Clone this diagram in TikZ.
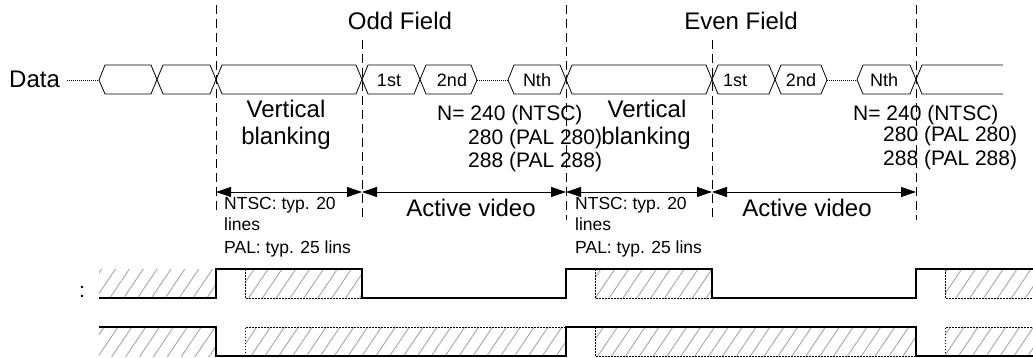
\documentclass[tikz,border=0pt]{standalone}
\usepackage{fontspec}
\setmainfont{Liberation Sans}
\usetikzlibrary{arrows.meta,patterns.meta}
\begin{document}
\begin{tikzpicture}[x=1pt,y=-1pt,
  big/.style={font=\fontsize{24}{28}\selectfont, inner sep=0pt},
  mid/.style={font=\fontsize{21}{24}\selectfont, inner sep=0pt},
  small/.style={font=\fontsize{17.5}{20}\selectfont, inner sep=0pt},
  lab/.style={font=\fontsize{18}{20}\selectfont, inner sep=0pt},
  bus/.style={line width=0.8pt, line join=miter},
  dotline/.style={line width=0.8pt, dash pattern=on 1pt off 1pt},
  guide/.style={line width=0.9pt, dash pattern=on 9pt off 5pt},
  dim/.style={line width=0.9pt, {Triangle[length=15pt,width=10pt]}-{Triangle[length=15pt,width=10pt]}},
  sig/.style={line width=1.8pt, line join=miter},
  hatch/.style={pattern={Lines[angle=56,distance=11.5pt,line width=0.9pt]}, pattern color=black!35},
  dotbox/.style={line width=0.8pt, dash pattern=on 1.5pt off 1.5pt}
]
\useasboundingbox (0,0) rectangle (1033,358);

% titles
\node[big, anchor=base] (odd) at (400,30) {Odd Field};
\node[big, anchor=base] (even) at (741,30) {Even Field};
\node[big, anchor=base west] (data) at (9,88) {Data};

% guide lines
\draw[guide] (216,5) -- (216,215);
\draw[guide] (362,40) -- (362,220);
\draw[guide] (566,5) -- (566,220);
\draw[guide] (712,40) -- (712,220);
\draw[guide] (916,5) -- (916,220);

% data bus
\coordinate (d0) at (67,80);
\coordinate (t1) at (99,80);
\coordinate (t2) at (477,80);
\coordinate (t3) at (508,80);
\coordinate (t4) at (827,80);
\coordinate (t5) at (857,80);
\draw[dotline] (d0) -- (t1);
\draw[dotline] (t2) -- (t3);
\draw[dotline] (t4) -- (t5);
\draw[bus] (t1) -- (105,65) -- (151,65) -- (163,94) -- (210,94) -- (222,65) -- (356,65) -- (368,94) -- (414,94) -- (426,65) -- (471,65) -- (t2);
\draw[bus] (t1) -- (105,94) -- (151,94) -- (163,65) -- (210,65) -- (222,94) -- (356,94) -- (368,65) -- (414,65) -- (426,94) -- (471,94) -- (t2);
\draw[bus] (t3) -- (514,65) -- (560,65) -- (572,94) -- (706,94) -- (718,65) -- (769,65) -- (781,94) -- (821,94) -- (t4);
\draw[bus] (t3) -- (514,94) -- (560,94) -- (572,65) -- (706,65) -- (718,94) -- (769,94) -- (781,65) -- (821,65) -- (t4);
\draw[bus] (t5) -- (863,65) -- (910,65) -- (922,94) -- (1003,94);
\draw[bus] (t5) -- (863,94) -- (910,94) -- (922,65) -- (1003,65);

\node[lab] (a1) at (389,80) {1st};
\node[lab] (a2) at (452,80) {2nd};
\node[lab] (an) at (537,80) {Nth};
\node[lab] (b1) at (735,80) {1st};
\node[lab] (b2) at (801,80) {2nd};
\node[lab] (bn) at (884,80) {Nth};

% blanking labels
\node[big, anchor=base] (v1) at (286,118) {Vertical};
\node[big, anchor=base] (k1) at (286,145) {blanking};
\node[big, anchor=base] (v2) at (647,118) {Vertical};
\node[big, anchor=base] (k2) at (646,145) {blanking};

% N labels
\node[mid, anchor=base west] (n1a) at (437,121) {N= 240 (NTSC)};
\node[mid, anchor=base west] (n1b) at (468,145) {280 (PAL 280)};
\node[mid, anchor=base west] (n1c) at (468,168) {288 (PAL 288)};
\node[mid, anchor=base west] (n2a) at (853,121) {N= 240 (NTSC)};
\node[mid, anchor=base west] (n2b) at (883,142) {280 (PAL 280)};
\node[mid, anchor=base west] (n2c) at (883,166) {288 (PAL 288)};

% dimension arrows
\draw[dim] (216,192) -- (362,192);
\draw[dim] (362,192) -- (566,192);
\draw[dim] (566,192) -- (712,192);
\draw[dim] (712,192) -- (916,192);

\node[big, anchor=base] (av1) at (471,217) {Active video};
\node[big, anchor=base] (av2) at (807,217) {Active video};

\node[small, anchor=base west] (s1a) at (224,210) {NTSC: typ. 20};
\node[small, anchor=base west] (s1b) at (224,230) {lines};
\node[small, anchor=base west] (s1c) at (224,253) {PAL: typ. 25 lins};
\node[small, anchor=base west] (s2a) at (575,210) {NTSC: typ. 20};
\node[small, anchor=base west] (s2b) at (575,230) {lines};
\node[small, anchor=base west] (s2c) at (575,253) {PAL: typ. 25 lins};

% signal 1
\node[mid, anchor=base] (colon) at (82,297) {:};
\fill[hatch] (99,269) rectangle (216,298);
\fill[hatch] (245,269) rectangle (362,298);
\fill[hatch] (595,269) rectangle (712,298);
\fill[hatch] (945,269) rectangle (1033,298);
\draw[dotbox] (245,269) -- (245,298) -- (362,298);
\draw[dotbox] (595,269) -- (595,298) -- (712,298);
\draw[dotbox] (945,269) -- (945,298) -- (1033,298);
\draw[sig] (99,298) -- (216,298) -- (216,269) -- (362,269) -- (362,298) -- (566,298) -- (566,269) -- (712,269) -- (712,298) -- (916,298) -- (916,269) -- (1033,269);

% signal 2
\fill[hatch] (99,327) rectangle (216,356);
\fill[hatch] (245,327) rectangle (566,356);
\fill[hatch] (595,327) rectangle (916,356);
\fill[hatch] (945,327) rectangle (1033,356);
\draw[dotbox] (245,356) -- (245,327) -- (566,327);
\draw[dotbox] (595,327) -- (595,356) -- (916,356);
\draw[dotbox] (945,356) -- (945,327) -- (1033,327);
\draw[sig] (99,327) -- (216,327) -- (216,356) -- (566,356) -- (566,327) -- (916,327) -- (916,356) -- (1033,356);
\end{tikzpicture}
\end{document}
